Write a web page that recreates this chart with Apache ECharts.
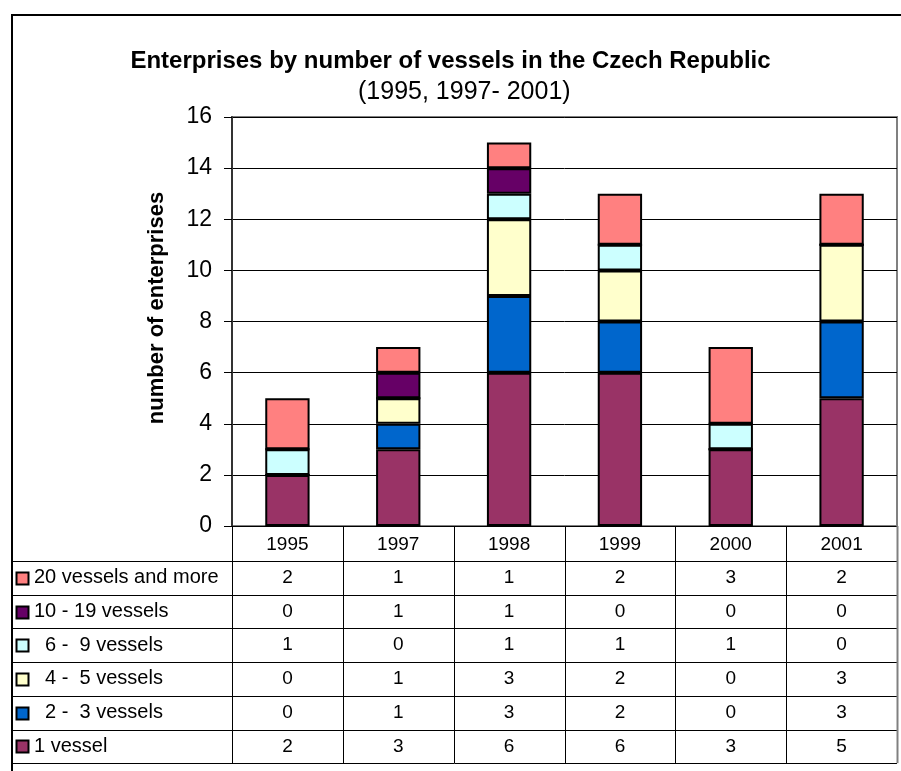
<!DOCTYPE html>
<html>
<head>
<meta charset="utf-8">
<script src="https://cdn.jsdelivr.net/npm/echarts@6/dist/echarts.min.js"></script>
<style>
  html, body { margin: 0; padding: 0; background: #fff; }
  #chart { width: 901px; height: 771px; }
</style>
</head>
<body>
<div id="chart"></div>
<script>
// Years shown on the category axis
const years = ['1995', '1997', '1998', '1999', '2000', '2001'];

// Number of enterprises per size class (stacked bottom to top)
const oneVessel      = [2, 3, 6, 6, 3, 5];
const twoToThree     = [0, 1, 3, 2, 0, 3];
const fourToFive     = [0, 1, 3, 2, 0, 3];
const sixToNine      = [1, 0, 1, 1, 1, 0];
const tenToNineteen  = [0, 1, 1, 0, 0, 0];
const twentyAndMore  = [2, 1, 1, 2, 3, 2];

// Series labels, in stacking order
const seriesLabels = ['1 vessel', '  2 -  3 vessels', '  4 -  5 vessels', '  6 -  9 vessels', '10 - 19 vessels', '20 vessels and more'];
const seriesValues = [oneVessel, twoToThree, fourToFive, sixToNine, tenToNineteen, twentyAndMore];
const seriesColors = ['#993366', '#0066CC', '#FFFFCC', '#CCFFFF', '#660066', '#FF8080'];

// Value axis range
const yMin = 0, yMax = 16, yStep = 2;

const FONT = '"Liberation Sans", Arial, Helvetica, sans-serif';
const GRID = { left: 232, top: 117, width: 665, height: 409 };

const chart = echarts.init(document.getElementById('chart'), null, { renderer: 'canvas' });

const series = seriesValues.map((vals, i) => ({
  name: seriesLabels[i],
  type: 'bar',
  stack: 'total',
  barWidth: '40%',
  data: vals,
  itemStyle: { color: seriesColors[i], borderColor: '#000', borderWidth: 2 },
  emphasis: { disabled: true },
  animation: false
}));

chart.setOption({
  animation: false,
  textStyle: { fontFamily: FONT },
  title: [
    { text: 'Enterprises by number of vessels in the Czech Republic', left: 'center', top: 44,
      textStyle: { fontFamily: FONT, fontSize: 24, fontWeight: 'bold', color: '#000' } },
    { text: '(1995, 1997- 2001)', left: 353, top: 75,
      textStyle: { fontFamily: FONT, fontSize: 25, fontWeight: 'normal', color: '#000' } }
  ],
  grid: { left: GRID.left, top: GRID.top, width: GRID.width, height: GRID.height,
          show: true, borderColor: '#808080', borderWidth: 2, backgroundColor: '#fff' },
  xAxis: {
    type: 'category',
    data: years,
    axisLine: { show: true, lineStyle: { color: '#000', width: 1 } },
    axisTick: { show: false },
    axisLabel: { fontFamily: FONT, fontSize: 19, color: '#000', margin: 9 }
  },
  yAxis: {
    type: 'value',
    min: yMin, max: yMax, interval: yStep,
    axisLine: { show: true, lineStyle: { color: '#333', width: 2 } },
    axisTick: { show: true, length: 8, lineStyle: { color: '#000', width: 1 } },
    axisLabel: { fontFamily: FONT, fontSize: 23, color: '#000', margin: 20 },
    splitLine: { show: true, lineStyle: { color: '#000', width: 1 } }
  },
  series: series
});

// Data table beneath the plot, aligned with the category bands
function buildTable() {
  const g = [];
  const c0 = chart.convertToPixel({ xAxisIndex: 0 }, 0);
  const c1 = chart.convertToPixel({ xAxisIndex: 0 }, 1);
  const band = c1 - c0;
  const axisY = chart.convertToPixel({ yAxisIndex: 0 }, yMin);
  const headerBottom = axisY + 35;
  const rowH = 33.7;
  const nRows = seriesLabels.length;
  const tableBottom = headerBottom + rowH * nRows;
  const leftEdge = 12;
  const rightEdge = c0 - band / 2 + band * years.length;

  // outer frame of the chart
  g.push({ type: 'rect', shape: { x: 12, y: 15, width: 1000, height: 1000 },
           style: { fill: null, stroke: '#000', lineWidth: 2 }, z: 100 });

  // horizontal rules
  for (let r = 0; r <= nRows; r++) {
    const y = Math.round(headerBottom + r * rowH) + 0.5;
    g.push({ type: 'line', shape: { x1: leftEdge, y1: y, x2: rightEdge, y2: y },
             style: { stroke: '#000', lineWidth: 1 }, z: 50 });
  }
  // vertical rules on category boundaries
  for (let k = 0; k <= years.length; k++) {
    const x = Math.round(c0 - band / 2 + k * band) + 0.5;
    g.push({ type: 'line', shape: { x1: x, y1: axisY, x2: x, y2: tableBottom },
             style: { stroke: k === years.length ? '#808080' : '#000', lineWidth: k === years.length ? 2 : 1 }, z: 50 });
  }
  // rows: top row is the last stacked series
  for (let r = 0; r < nRows; r++) {
    const si = nRows - 1 - r;
    const cy = headerBottom + r * rowH + rowH / 2;
    g.push({ type: 'rect', shape: { x: 16.5, y: Math.round(cy - 6) + 0.5, width: 12, height: 12 },
             style: { fill: seriesColors[si], stroke: '#000', lineWidth: 2 }, z: 60 });
    g.push({ type: 'text', x: 34, y: cy, z: 60,
             style: { text: seriesLabels[si], font: '20px ' + FONT, fill: '#000',
                      textAlign: 'left', textVerticalAlign: 'middle' } });
    seriesValues[si].forEach((v, i) => {
      const cx = chart.convertToPixel({ xAxisIndex: 0 }, i);
      g.push({ type: 'text', x: cx, y: cy, z: 60,
               style: { text: String(v), font: '19px ' + FONT, fill: '#000',
                        textAlign: 'center', textVerticalAlign: 'middle' } });
    });
  }
  // rotated axis title
  g.push({ type: 'text', x: 157, y: 308, rotation: Math.PI / 2, z: 60,
           style: { text: 'number of enterprises', font: 'bold 22px ' + FONT, fill: '#000',
                    textAlign: 'center', textVerticalAlign: 'middle' } });
  chart.setOption({ graphic: g });
}
buildTable();
</script>
</body>
</html>
